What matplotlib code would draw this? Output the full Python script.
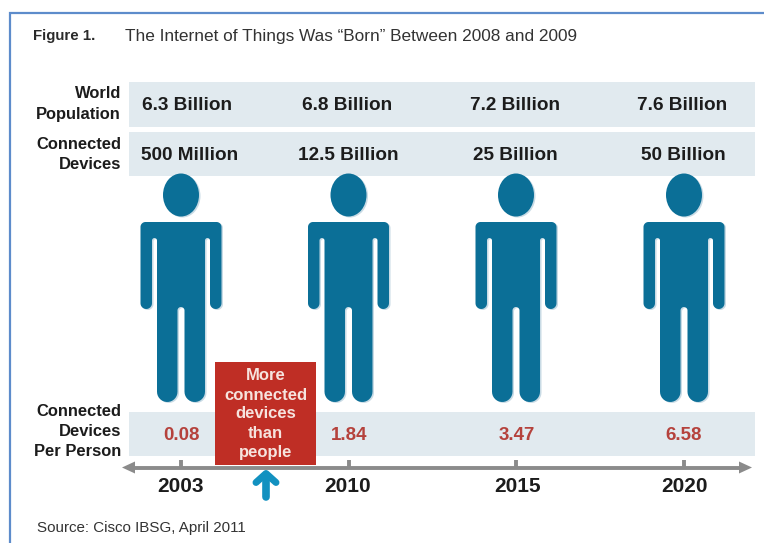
import numpy as np
import matplotlib.pyplot as plt
from matplotlib.patches import Ellipse, Rectangle, Polygon

years = ['2003', '2010', '2015', '2020']
population = ['6.3 Billion', '6.8 Billion', '7.2 Billion', '7.6 Billion']
devices = ['500 Million', '12.5 Billion', '25 Billion', '50 Billion']
per_person = [0.08, 1.84, 3.47, 6.58]

# layout, in pixels
column_x = [181, 348.5, 516, 684]
population_x = [187.5, 347, 515, 682.5]
devices_x = [190, 348, 515.5, 683.5]
ratio_x = [181.5, 349.5, 516.5, 684]
year_x = [180.5, 347.5, 517.5, 684.5]

plt.rcParams['font.family'] = ['Liberation Sans', 'DejaVu Sans']

BLUE = '#0b6f97'
SHADOW = '#c9dbe5'
BAND = '#e1eaef'
DARK = '#1c1c1c'
RED = '#b5423c'
GREY = '#8b8b8b'


def arc(cx, cy, r, a0, a1):
    a = np.radians(np.linspace(a0, a1, 16))
    return np.column_stack([cx + r * np.cos(a), cy + r * np.sin(a)])


# right half of the body outline, y pointing down
half_body = np.vstack([
    arc(35.5, 227, 5, -90, 0),           # shoulder
    arc(34.75, 303.25, 5.75, 0, 180),    # hand
    arc(26.5, 240.5, 2.5, 0, -180),      # armpit
    arc(13.75, 391.75, 10.25, 0, 180),   # foot
    arc(0, 310.5, 3.5, 0, -90),          # crotch
])
mirrored = half_body[::-1] * [-1, 1]
body_outline = np.vstack([half_body, mirrored])


def person(ax, cx):
    for dx, dy, color, z in [(1.5, 1, SHADOW, 2), (0, 0, BLUE, 3)]:
        ax.add_patch(Ellipse((cx + dx, 195 + dy), 36, 43, fc=color, ec='none', zorder=z))
        ax.add_patch(Polygon(body_outline + [cx + dx, dy], closed=True, fc=color, ec='none', zorder=z))


fig = plt.figure(figsize=(7.64, 5.43), dpi=100)
ax = fig.add_axes([0, 0, 1, 1])
ax.set_xlim(0, 764)
ax.set_ylim(543, 0)
ax.axis('off')

# outer frame, open at the bottom
ax.plot([9.5, 9.5, 764], [543, 12.5, 12.5], color='#5d8ccb', lw=1.6, solid_joinstyle='miter', zorder=1)

ax.text(33, 36, 'Figure 1.', fontsize=10.8, color='#2a2a2a', va='center', fontweight='bold')
ax.text(125, 36, 'The Internet of Things Was \u201cBorn\u201d Between 2008 and 2009', fontsize=12.45,
        color='#333333', va='center')

# bands behind the rows
ax.add_patch(Rectangle((128.5, 82), 626.5, 44.5, fc=BAND, ec='none', zorder=1))
ax.add_patch(Rectangle((128.5, 132), 626.5, 44, fc=BAND, ec='none', zorder=1))
ax.add_patch(Rectangle((128.5, 412), 626.5, 43.5, fc=BAND, ec='none', zorder=1))

# row headings
for y, label in [(93.5, 'World'), (114, 'Population'), (144.5, 'Connected'), (164.5, 'Devices'),
                 (411, 'Connected'), (431.5, 'Devices'), (452, 'Per Person')]:
    ax.text(121, y, label, ha='right', va='center', fontsize=11.9, fontweight='bold', color=DARK)

for i, yr in enumerate(years):
    person(ax, column_x[i])
    ax.text(population_x[i], 105, population[i], ha='center', va='center',
            fontsize=13.7, fontweight='bold', color=DARK)
    ax.text(devices_x[i], 155, devices[i], ha='center', va='center',
            fontsize=13.7, fontweight='bold', color=DARK)
    ax.text(ratio_x[i], 435, f'{per_person[i]:.2f}', ha='center', va='center',
            fontsize=13.5, fontweight='bold', color=RED)
    ax.plot([column_x[i], column_x[i]], [460, 467], color=GREY, lw=2.8, solid_capstyle='butt', zorder=2)
    ax.text(year_x[i], 487, yr, ha='center', va='center', fontsize=15, fontweight='bold', color=DARK)

# timeline with arrow heads on both ends
ax.plot([133, 741], [467.5, 467.5], color=GREY, lw=2.8, solid_capstyle='butt', zorder=2)
ax.add_patch(Polygon([[122, 467.5], [135, 461.5], [135, 473.5]], fc=GREY, ec='none', zorder=2))
ax.add_patch(Polygon([[752, 467.5], [739, 461.5], [739, 473.5]], fc=GREY, ec='none', zorder=2))

# callout box
ax.add_patch(Rectangle((214.7, 362), 100.8, 103, fc='#bf2e25', ec='none', zorder=6))
for y, label in [(376, 'More'), (395, 'connected'), (414, 'devices'), (433, 'than'), (452, 'people')]:
    ax.text(265.5, y, label, ha='center', va='center', fontsize=12, fontweight='bold',
            color='#f6e3de', zorder=7)

# arrow under the callout
ax.plot([266, 266], [478, 497], color='#1291c0', lw=5.5, solid_capstyle='round', zorder=3)
ax.plot([256, 266, 276], [482.5, 473.5, 482.5], color='#1291c0', lw=5, solid_capstyle='round',
        solid_joinstyle='round', zorder=3)

ax.text(37, 528, 'Source: Cisco IBSG, April 2011', fontsize=10.9, va='center', color='#333333')

fig.savefig('out.png', dpi=100)
plt.close(fig)
